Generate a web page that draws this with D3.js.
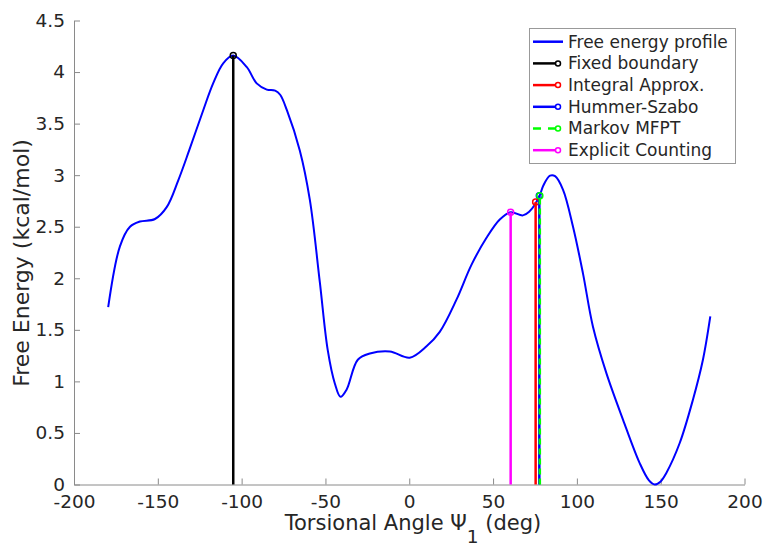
<!DOCTYPE html>
<html>
<head>
<meta charset="utf-8">
<script src="https://cdn.jsdelivr.net/npm/d3@7"></script>
<style>
    body { margin: 0; background: #fff; }
    svg text { font-family: "DejaVu Sans", sans-serif; fill: #262626; }
</style>
</head>
<body>
<svg id="chart" width="767" height="546"></svg>
<script>
// free energy profile
var angle = [-179.6, -172.6, -166.6, -160.7, -151.7, -144.7, -137.8, -131.3, -122.9, -117, -111, -105,
    -97, -91, -85, -80, -77, -73, -65.3, -59.3, -53.4, -48.6, -44.4, -41, -37.4, -30.7, -23.5, -11.6,
    0.3, 10.3, 18.2, 28.1, 37.1, 46, 54, 60.5, 67.8, 71.8, 74.8, 78, 80, 84, 87, 91.7, 97.7, 103.6,
    109.6, 117.6, 127.5, 137.4, 143, 146.4, 150, 153.3, 161.3, 169.2, 175.2, 179.6];
var energy = [1.72, 2.31, 2.50, 2.55, 2.575, 2.69, 2.95, 3.24, 3.63, 3.89, 4.085, 4.16,
    4.05, 3.89, 3.83, 3.82, 3.78, 3.63, 3.24, 2.76, 1.97, 1.30, 0.98, 0.85, 0.92, 1.21, 1.27, 1.29,
    1.23, 1.34, 1.48, 1.79, 2.13, 2.39, 2.57, 2.64, 2.61, 2.65, 2.71, 2.81, 2.90, 2.995, 2.99, 2.86, 2.50, 2.05,
    1.53, 1.08, 0.63, 0.21, 0.04, 0, 0.03, 0.11, 0.40, 0.82, 1.21, 1.63];

// transition state estimates
var methods = ["Fixed boundary", "Integral Approx.", "Hummer-Szabo", "Markov MFPT", "Explicit Counting"];
var methodAngle = [-105, 75.4, 77.6, 77.9, 60.5];
var methodEnergy = [4.16, 2.74, 2.80, 2.80, 2.64];
var methodColor = ["#000000", "#ff0000", "#0000ff", "#00ff00", "#ff00ff"];
var methodDash = [null, null, null, "6,4", null];

var xTicks = [-200, -150, -100, -50, 0, 50, 100, 150, 200];
var yTicks = [0, 0.5, 1, 1.5, 2, 2.5, 3, 3.5, 4, 4.5];

var margin = {left: 74, top: 20.5, right: 744.5, bottom: 484.5};
var svg = d3.select("#chart");

var x = d3.scaleLinear().domain([-200, 200]).range([margin.left, margin.right]);
var y = d3.scaleLinear().domain([0, 4.5]).range([margin.bottom, margin.top]);

var axisColor = "#8a8a8a";
var plain = function (d) { return String(d); };  // matlab style hyphen minus

var xAxis = svg.append("g")
    .attr("transform", "translate(0," + margin.bottom + ")")
    .call(d3.axisBottom(x).tickValues(xTicks).tickSizeInner(-6).tickSizeOuter(0).tickPadding(10)
        .tickFormat(plain));
var yAxis = svg.append("g")
    .attr("transform", "translate(" + margin.left + ",0)")
    .call(d3.axisLeft(y).tickValues(yTicks).tickSizeInner(-6).tickSizeOuter(0).tickPadding(9)
        .tickFormat(plain));

[xAxis, yAxis].forEach(function (ax) {
    ax.select(".domain").attr("stroke", axisColor);
    ax.selectAll(".tick line").attr("stroke", axisColor);
    ax.selectAll(".tick text").style("font-size", "18.5px").attr("fill", "#262626");
});

// profile
var pts = angle.map(function (a, i) { return [a, energy[i]]; });
var line = d3.line()
    .x(function (d) { return x(d[0]); })
    .y(function (d) { return y(d[1]); })
    .curve(d3.curveCatmullRom.alpha(0.5));

svg.append("path")
    .datum(pts)
    .attr("d", line)
    .attr("fill", "none")
    .attr("stroke", "#0000ff")
    .attr("stroke-width", 2);

// vertical stems
methods.forEach(function (m, i) {
    svg.append("line")
        .attr("x1", x(methodAngle[i])).attr("x2", x(methodAngle[i]))
        .attr("y1", y(0)).attr("y2", y(methodEnergy[i]))
        .attr("stroke", methodColor[i])
        .attr("stroke-width", 2.5)
        .attr("stroke-dasharray", methodDash[i]);
    svg.append("circle")
        .attr("cx", x(methodAngle[i])).attr("cy", y(methodEnergy[i]))
        .attr("r", 3)
        .attr("fill", "none")
        .attr("stroke", methodColor[i])
        .attr("stroke-width", 1.5);
});

// legend
var legend = svg.append("g");
legend.append("rect")
    .attr("x", 529.5).attr("y", 28.5).attr("width", 206).attr("height", 135)
    .attr("fill", "#fff").attr("stroke", "#999").attr("stroke-width", 1);

var entries = ["Free energy profile"].concat(methods);
entries.forEach(function (name, i) {
    var ly = 41.7 + i * 21.7;
    var col = i === 0 ? "#0000ff" : methodColor[i - 1];
    var dash = i === 0 ? null : methodDash[i - 1];
    if (i === 4) {
        legend.append("line").attr("x1", 533).attr("x2", 541).attr("y1", ly).attr("y2", ly)
            .attr("stroke", col).attr("stroke-width", 2.5);
        legend.append("line").attr("x1", 548).attr("x2", 556).attr("y1", ly).attr("y2", ly)
            .attr("stroke", col).attr("stroke-width", 2.5);
    } else {
        legend.append("line").attr("x1", 533).attr("x2", i === 0 ? 563 : 556).attr("y1", ly).attr("y2", ly)
            .attr("stroke", col).attr("stroke-width", 2.5).attr("stroke-dasharray", dash);
    }
    if (i > 0) {
        legend.append("circle").attr("cx", 558).attr("cy", ly).attr("r", 2.5)
            .attr("fill", "none").attr("stroke", col).attr("stroke-width", 1.5);
    }
    legend.append("text")
        .attr("x", 568).attr("y", ly)
        .attr("dy", "0.35em")
        .style("font-size", "17px")
        .text(name);
});

// axis labels
var xl = svg.append("text")
    .attr("x", 413).attr("y", 529.5)
    .attr("text-anchor", "middle")
    .style("font-size", "21px");
xl.append("tspan").text("Torsional Angle \u03A8");
xl.append("tspan").attr("dy", 13).style("font-size", "18.5px").text("1");
xl.append("tspan").attr("dy", -13).text(" (deg)");

svg.append("text")
    .attr("transform", "translate(29,263) rotate(-90)")
    .attr("text-anchor", "middle")
    .style("font-size", "22px")
    .text("Free Energy (kcal/mol)");
</script>
</body>
</html>
